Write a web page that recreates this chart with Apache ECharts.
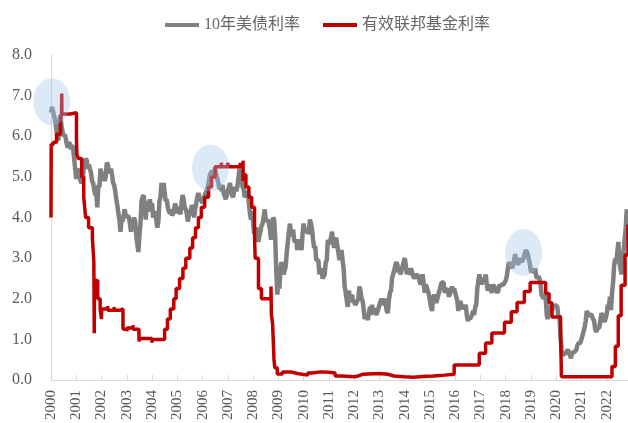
<!DOCTYPE html>
<html>
<head>
<meta charset="utf-8">
<script src="https://cdn.jsdelivr.net/npm/echarts@6/dist/echarts.min.js"></script>
<style>
  html, body { margin: 0; padding: 0; background: #ffffff; }
  #chart { width: 628px; height: 423px; }
</style>
</head>
<body>
<div id="chart"></div>
<script>
// 10-year Treasury yield, sampled twice a month (1st and 15th), Jan 2000 - Nov 2022
const tsyStartYear = 2000;
const tsy10y = [
  // 2000
  6.58, 6.72, 6.70, 6.50, 6.38, 6.20, 5.95, 5.90, 6.35, 6.52, 6.25, 6.10,
  6.00, 6.05, 5.95, 5.80, 5.72, 5.85, 5.80, 5.68, 5.78, 5.70, 5.45, 5.18,
  // 2001
  4.95, 5.20, 5.15, 5.05, 4.90, 4.85, 4.90, 5.20, 5.35, 5.45, 5.40, 5.20,
  5.30, 5.20, 5.10, 4.90, 4.85, 4.70, 4.55, 4.60, 4.25, 4.80, 4.75, 5.20,
  // 2002
  5.10, 4.90, 5.00, 4.90, 5.00, 5.35, 5.30, 5.15, 5.10, 5.20, 5.05, 4.85,
  4.80, 4.65, 4.45, 4.30, 4.10, 3.95, 3.65, 3.95, 3.90, 4.05, 4.20, 4.05,
  // 2003
  4.00, 4.05, 4.00, 3.85, 3.65, 3.95, 3.85, 4.00, 3.90, 3.55, 3.35, 3.15,
  3.55, 3.85, 4.40, 4.50, 4.55, 4.25, 3.95, 4.40, 4.35, 4.15, 4.45, 4.20,
  // 2004
  4.35, 4.00, 4.15, 4.05, 3.95, 3.75, 3.90, 4.40, 4.50, 4.85, 4.65, 4.85,
  4.60, 4.40, 4.45, 4.25, 4.15, 4.10, 4.20, 4.05, 4.10, 4.20, 4.35, 4.10,
  // 2005
  4.25, 4.20, 4.15, 4.08, 4.35, 4.55, 4.45, 4.25, 4.20, 4.10, 3.90, 4.05,
  4.10, 4.20, 4.30, 4.25, 4.00, 4.20, 4.35, 4.50, 4.60, 4.50, 4.45, 4.45,
  // 2006
  4.35, 4.35, 4.55, 4.60, 4.60, 4.75, 4.90, 5.05, 5.10, 5.15, 5.05, 5.15,
  5.20, 5.05, 4.95, 4.85, 4.70, 4.80, 4.65, 4.80, 4.60, 4.60, 4.45, 4.55,
  // 2007
  4.65, 4.75, 4.85, 4.70, 4.55, 4.50, 4.65, 4.75, 4.65, 4.75, 4.95, 5.20,
  5.00, 5.05, 4.75, 4.70, 4.50, 4.50, 4.60, 4.65, 4.35, 4.10, 3.95, 4.15,
  // 2008
  3.90, 3.60, 3.70, 3.75, 3.60, 3.40, 3.55, 3.65, 3.80, 3.85, 4.00, 4.20,
  3.95, 3.90, 3.95, 3.85, 3.70, 3.45, 3.75, 4.00, 3.95, 3.50, 2.70, 2.10,
  // 2009
  2.45, 2.25, 2.75, 2.90, 2.90, 2.60, 2.70, 2.80, 3.15, 3.15, 3.65, 3.85,
  3.55, 3.60, 3.70, 3.45, 3.40, 3.45, 3.20, 3.45, 3.45, 3.35, 3.20, 3.60,
  // 2010
  3.85, 3.70, 3.65, 3.70, 3.60, 3.65, 3.95, 3.85, 3.70, 3.45, 3.25, 3.30,
  2.95, 2.95, 2.95, 2.60, 2.60, 2.75, 2.50, 2.50, 2.60, 2.90, 2.95, 3.45,
  // 2011
  3.35, 3.35, 3.50, 3.65, 3.40, 3.25, 3.45, 3.50, 3.30, 3.15, 2.95, 2.95,
  3.20, 2.95, 2.75, 2.30, 2.15, 1.95, 1.80, 2.20, 2.00, 2.05, 2.10, 1.90,
  // 2012
  1.95, 1.85, 1.85, 1.95, 2.00, 2.30, 2.20, 2.00, 1.95, 1.75, 1.50, 1.60,
  1.60, 1.48, 1.50, 1.80, 1.60, 1.85, 1.65, 1.75, 1.70, 1.60, 1.60, 1.75,
  // 2013
  1.85, 1.85, 2.00, 2.00, 1.85, 2.00, 1.85, 1.70, 1.65, 1.95, 2.15, 2.20,
  2.50, 2.60, 2.70, 2.80, 2.90, 2.85, 2.65, 2.75, 2.60, 2.70, 2.80, 2.90,
  // 2014
  3.00, 2.85, 2.60, 2.75, 2.60, 2.65, 2.75, 2.65, 2.65, 2.50, 2.55, 2.60,
  2.60, 2.55, 2.55, 2.35, 2.40, 2.60, 2.40, 2.15, 2.35, 2.35, 2.20, 2.10,
  // 2015
  2.10, 1.80, 1.70, 2.00, 2.10, 2.10, 1.90, 1.90, 2.10, 2.20, 2.20, 2.40,
  2.40, 2.40, 2.15, 2.20, 2.20, 2.25, 2.05, 2.05, 2.20, 2.30, 2.20, 2.25,
  // 2016
  2.25, 2.05, 1.95, 1.70, 1.85, 1.95, 1.80, 1.75, 1.85, 1.75, 1.85, 1.60,
  1.45, 1.55, 1.50, 1.55, 1.60, 1.70, 1.60, 1.80, 1.85, 2.25, 2.45, 2.60,
  // 2017
  2.45, 2.35, 2.45, 2.50, 2.45, 2.60, 2.35, 2.20, 2.30, 2.35, 2.20, 2.15,
  2.35, 2.30, 2.25, 2.25, 2.15, 2.20, 2.35, 2.30, 2.35, 2.35, 2.35, 2.40,
  // 2018
  2.45, 2.55, 2.75, 2.90, 2.85, 2.85, 2.75, 2.85, 2.95, 3.10, 2.90, 2.92,
  2.85, 2.85, 3.00, 2.90, 2.90, 3.00, 3.10, 3.20, 3.15, 3.10, 2.95, 2.85,
  // 2019
  2.65, 2.70, 2.70, 2.65, 2.75, 2.55, 2.50, 2.55, 2.50, 2.40, 2.10, 2.10,
  2.00, 2.10, 2.00, 1.60, 1.50, 1.85, 1.65, 1.75, 1.70, 1.85, 1.80, 1.85,
  // 2020
  1.88, 1.80, 1.55, 1.60, 1.10, 0.75, 0.60, 0.65, 0.65, 0.65, 0.66, 0.75,
  0.68, 0.62, 0.53, 0.68, 0.68, 0.68, 0.68, 0.74, 0.85, 0.90, 0.92, 0.92,
  // 2021
  0.93, 1.10, 1.08, 1.30, 1.45, 1.70, 1.68, 1.57, 1.60, 1.63, 1.60, 1.50,
  1.45, 1.25, 1.18, 1.26, 1.30, 1.30, 1.48, 1.65, 1.56, 1.60, 1.43, 1.45,
  // 2022
  1.63, 1.85, 1.80, 2.05, 1.72, 2.15, 2.40, 2.83, 2.99, 2.88, 2.90, 3.40,
  2.89, 2.93, 2.60, 2.80, 3.20, 3.45, 3.75, 4.20, 4.10
];

// Effective federal funds rate: date the level took effect, and the level
const effrDates = [
  '2000-01-01','2000-01-04','2000-02-03','2000-03-22','2000-05-17','2000-06-01','2000-06-05','2000-06-07','2000-10-02',
  '2001-01-04','2001-01-10','2001-02-01','2001-03-21','2001-04-19','2001-05-16','2001-06-28','2001-08-22',
  '2001-09-12','2001-09-18','2001-09-21','2001-10-03','2001-11-07','2001-12-12','2001-12-31',
  '2002-01-03','2002-04-01','2002-04-03','2002-07-01','2002-07-03','2002-10-01','2002-11-07','2002-11-12',
  '2003-01-02','2003-01-06','2003-03-31','2003-04-02','2003-06-26','2003-07-01','2003-07-03','2003-12-31',
  '2004-01-02','2004-07-01','2004-08-11','2004-09-22','2004-11-11','2004-12-15',
  '2005-02-03','2005-03-23','2005-05-04','2005-07-01','2005-08-10','2005-09-21','2005-11-02','2005-12-14',
  '2006-02-01','2006-03-29','2006-05-11','2006-06-30','2006-09-29','2006-10-03','2006-12-29',
  '2007-01-03','2007-06-29','2007-07-03','2007-08-09','2007-08-10','2007-08-20','2007-09-19','2007-11-01','2007-12-12',
  '2008-01-22','2008-01-31','2008-03-19','2008-05-01','2008-09-16','2008-09-22','2008-10-09','2008-10-30','2008-11-10','2008-12-16',
  '2009-03-01','2009-07-01','2009-10-01','2010-03-01','2010-05-01','2010-09-01',
  '2011-01-01','2011-04-01','2011-07-01','2012-01-01','2012-03-01','2012-05-01',
  '2013-01-01','2013-05-01','2013-08-01','2014-01-01','2014-05-01','2014-11-01',
  '2015-03-01','2015-08-01','2015-12-17','2016-12-15','2017-03-16','2017-06-15','2017-12-14',
  '2018-03-22','2018-06-14','2018-09-27','2018-12-20','2019-08-01','2019-09-19','2019-10-31',
  '2020-03-04','2020-03-16','2020-06-01','2021-06-17',
  '2022-03-17','2022-05-05','2022-06-16','2022-07-28','2022-09-22','2022-11-03'
];
const effrRates = [
  4.00, 5.80, 5.85, 6.05, 6.45, 6.55, 7.05, 6.55, 6.58,
  5.95, 5.55, 5.45, 5.00, 4.50, 4.00, 3.75, 3.50,
  2.90, 1.15, 2.40, 2.45, 2.00, 1.75, 1.50,
  1.75, 1.82, 1.72, 1.80, 1.72, 1.75, 1.30, 1.25,
  1.20, 1.28, 1.35, 1.25, 1.00, 0.95, 1.02, 0.92,
  1.00, 1.25, 1.50, 1.75, 2.00, 2.25,
  2.50, 2.75, 3.00, 3.25, 3.50, 3.75, 4.00, 4.25,
  4.50, 4.75, 5.00, 5.25, 5.35, 5.25, 5.35,
  5.25, 5.35, 5.25, 5.40, 4.90, 5.05, 4.75, 4.50, 4.25,
  3.50, 3.00, 2.25, 2.00, 2.30, 1.60, 1.40, 0.50, 0.30, 0.15,
  0.20, 0.16, 0.12, 0.17, 0.20, 0.19,
  0.17, 0.10, 0.08, 0.10, 0.14, 0.16,
  0.14, 0.10, 0.08, 0.07, 0.09, 0.10,
  0.12, 0.14, 0.37, 0.66, 0.91, 1.16, 1.42,
  1.68, 1.91, 2.18, 2.40, 2.13, 1.90, 1.55,
  1.10, 0.08, 0.08, 0.08,
  0.33, 0.83, 1.58, 2.33, 3.08, 3.83
];

// Highlighted turning points: [year, rate]
const highlights = [[2000.03, 6.85], [2006.32, 5.22], [2018.71, 3.14]];

const seriesNames = ['10年美债利率', '有效联邦基金利率'];
const xMin = 2000, xMax = 2022.84;
const yMin = 0, yMax = 8, yStep = 1;

function toYear(s) {
  const [y, m, d] = s.split('-').map(Number);
  const start = Date.UTC(y, 0, 1), end = Date.UTC(y + 1, 0, 1);
  return y + (Date.UTC(y, m - 1, d) - start) / (end - start);
}

const tsyData = tsy10y.map((v, i) => [tsyStartYear + i / 24, v]);
const effrData = effrDates.map((d, i) => [toYear(d), effrRates[i]]);

const serif = "'Liberation Serif', 'Noto Sans CJK SC', serif";
const chart = echarts.init(document.getElementById('chart'));
chart.setOption({
  animation: false,
  backgroundColor: '#ffffff',
  legend: {
    data: seriesNames,
    top: 12,
    left: 160,
    icon: 'rect',
    itemWidth: 34,
    itemHeight: 4,
    itemGap: 23,
    textStyle: { fontFamily: serif, fontSize: 16, color: '#666666' }
  },
  grid: { left: 51, right: 0, top: 55, bottom: 41 },
  xAxis: {
    type: 'value',
    min: xMin,
    max: xMax,
    interval: 1,
    axisLine: { lineStyle: { color: '#d9d9d9', width: 1 } },
    axisTick: { inside: true, length: 5, lineStyle: { color: '#d9d9d9' } },
    splitLine: { show: false },
    axisLabel: {
      rotate: 90,
      margin: 10,
      showMaxLabel: false,
      fontFamily: serif,
      fontSize: 15,
      color: '#595959',
      formatter: v => String(Math.round(v))
    }
  },
  yAxis: {
    type: 'value',
    min: yMin,
    max: yMax,
    interval: yStep,
    axisLine: { show: true, lineStyle: { color: '#d9d9d9', width: 1 } },
    axisTick: { show: false },
    splitLine: { show: false },
    axisLabel: {
      margin: 19,
      fontFamily: serif,
      fontSize: 16,
      color: '#595959',
      formatter: v => v.toFixed(1)
    }
  },
  series: [
    {
      name: seriesNames[0],
      type: 'line',
      data: tsyData,
      showSymbol: false,
      lineStyle: { color: '#808080', width: 4.5 },
      itemStyle: { color: '#808080' },
      z: 2
    },
    {
      name: seriesNames[1],
      type: 'line',
      data: effrData,
      step: 'end',
      showSymbol: false,
      lineStyle: { color: '#c00000', width: 3.5 },
      itemStyle: { color: '#c00000' },
      z: 3
    },
    {
      name: 'highlight',
      type: 'scatter',
      data: highlights,
      symbol: 'circle',
      symbolSize: [37, 47],
      clip: false,
      silent: true,
      itemStyle: { color: 'rgba(157,195,230,0.45)' },
      z: 4
    }
  ]
});
</script>
</body>
</html>
